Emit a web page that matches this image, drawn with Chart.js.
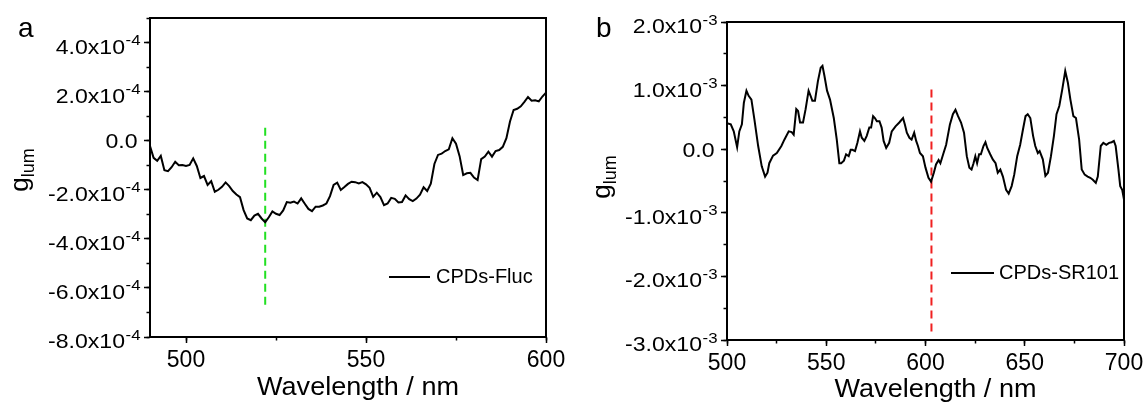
<!DOCTYPE html>
<html><head><meta charset="utf-8">
<script src="https://cdn.jsdelivr.net/npm/chart.js@4/dist/chart.umd.min.js"></script>
<style>
html,body{margin:0;padding:0;background:#fff;}
#wrap{position:relative;width:1147px;height:403px;overflow:hidden;background:#fff;}
.pane{position:absolute;top:0;height:403px;}
</style></head><body>
<div id="wrap">
<div class="pane" style="left:0;width:570px"><canvas id="ca"></canvas></div>
<div class="pane" style="left:570px;width:577px"><canvas id="cb"></canvas></div>
</div>
<script>
// ---------- Panel a : CPDs-Fluc ----------
const WAVELENGTH_A = [490,491,492,493,494,495,496,497,498,499,
500,501,502,503,504,505,506,507,508,509,
510,511,512,513,514,515,516,517,518,519,
520,521,522,523,524,525,526,527,528,529,
530,531,532,533,534,535,536,537,538,539,
540,541,542,543,544,545,546,547,548,549,
550,551,552,553,554,555,556,557,558,559,
560,561,562,563,564,565,566,567,568,569,
570,571,572,573,574,575,576,577,578,579,
580,581,582,583,584,585,586,587,588,589,
590,591,592,593,594,595,596,597,598,599,600];
const GLUM_A = [-0.22e-4,-0.7e-4,-0.82e-4,-0.62e-4,-1.2e-4,-1.24e-4,-1.08e-4,-0.86e-4,-1.0e-4,-0.99e-4,
-1.03e-4,-0.99e-4,-0.72e-4,-1.03e-4,-1.52e-4,-1.44e-4,-1.8e-4,-1.65e-4,-2.08e-4,-2.0e-4,
-1.88e-4,-1.7e-4,-1.85e-4,-2.05e-4,-2.19e-4,-2.3e-4,-2.83e-4,-3.17e-4,-3.24e-4,-3.05e-4,
-2.98e-4,-3.17e-4,-3.32e-4,-3.12e-4,-2.88e-4,-2.98e-4,-3.03e-4,-2.84e-4,-2.5e-4,-2.53e-4,
-2.48e-4,-2.56e-4,-2.35e-4,-2.57e-4,-2.78e-4,-2.87e-4,-2.69e-4,-2.69e-4,-2.64e-4,-2.56e-4,
-2.26e-4,-1.8e-4,-1.71e-4,-2.01e-4,-1.89e-4,-1.76e-4,-1.67e-4,-1.69e-4,-1.74e-4,-1.69e-4,
-1.78e-4,-1.92e-4,-2.29e-4,-2.12e-4,-2.3e-4,-2.63e-4,-2.56e-4,-2.33e-4,-2.37e-4,-2.52e-4,
-2.5e-4,-2.23e-4,-2.38e-4,-2.46e-4,-2.36e-4,-2.2e-4,-1.9e-4,-2.05e-4,-1.75e-4,-0.95e-4,
-0.58e-4,-0.53e-4,-0.42e-4,-0.35e-4,0.1e-4,-0.12e-4,-0.63e-4,-1.4e-4,-1.33e-4,-1.31e-4,
-1.5e-4,-1.6e-4,-0.75e-4,-0.65e-4,-0.45e-4,-0.65e-4,-0.42e-4,-0.38e-4,-0.25e-4,0.1e-4,
0.78e-4,1.25e-4,1.3e-4,1.4e-4,1.58e-4,1.78e-4,1.63e-4,1.65e-4,1.6e-4,1.8e-4,1.96e-4];
const MARKER_A_X = [522, 522];
const MARKER_A_Y = [0.53e-4, -6.82e-4];
const LABEL_A = 'CPDs-Fluc';
const X_TICKS_A = [500, 550, 600];
const Y_TICKS_A = [4e-4, 2e-4, 0, -2e-4, -4e-4, -6e-4, -8e-4];
const Y_TICK_MAIN_A = ['4.0x10','2.0x10','0.0','-2.0x10','-4.0x10','-6.0x10','-8.0x10'];
const Y_TICK_SUP_A = ['-4','-4','','-4','-4','-4','-4'];

// ---------- Panel b : CPDs-SR101 ----------
const WAVELENGTH_B = [500,501.9,503.4,505.1,506.2,507.5,508.5,509.8,510.9,512.3,513.8,515.7,517.5,519.2,520.4,521.3,523.2,525.1,527.4,528.9,
531.1,532.6,533.6,534.9,535.8,536.8,538.3,539.6,541.1,542.1,543.0,544.3,545.8,547.2,548.1,549.1,550.4,551.9,553.8,555.3,
556.6,557.5,558.9,560.0,561.3,562.3,563.2,564.5,565.7,567.0,567.9,569.2,570.4,571.7,572.6,573.6,574.5,575.5,576.8,577.9,
578.9,580.2,581.7,583.0,584.9,586.8,588.7,589.6,590.6,591.9,593.0,594.3,595.3,596.2,597.2,598.7,600.0,601.5,602.8,604.2,
605.3,606.6,607.5,608.9,610.4,612.3,613.8,615.1,616.4,617.9,619.4,620.8,622.1,623.2,624.2,625.1,626.0,627.0,627.9,629.2,
630.2,631.1,632.6,633.9,635.3,636.4,637.7,639.0,640.6,641.9,643.4,644.7,646.2,647.7,649.1,650.4,651.5,652.8,654.2,655.3,
656.6,657.5,659.1,660.4,661.7,663.2,664.7,666.0,667.4,668.9,670.4,671.7,673.0,674.5,675.8,677.4,678.7,680.2,681.7,683.0,
684.3,685.8,686.8,688.3,689.6,691.1,692.5,693.8,694.9,695.8,697.2,698.1,699.1,700.0];
const GLUM_B = [0.41e-3,0.39e-3,0.28e-3,0.03e-3,0.28e-3,0.39e-3,0.73e-3,0.92e-3,0.84e-3,0.78e-3,0.47e-3,0.05e-3,-0.27e-3,-0.43e-3,-0.37e-3,-0.22e-3,-0.10e-3,-0.06e-3,0.05e-3,0.15e-3,
0.28e-3,0.27e-3,0.23e-3,0.63e-3,0.60e-3,0.42e-3,0.42e-3,0.63e-3,0.92e-3,0.84e-3,0.76e-3,0.76e-3,1.07e-3,1.28e-3,1.31e-3,1.15e-3,0.92e-3,0.78e-3,0.49e-3,0.15e-3,
-0.22e-3,-0.22e-3,-0.18e-3,-0.08e-3,-0.11e-3,-0.01e-3,-0.01e-3,-0.03e-3,0.10e-3,0.28e-3,0.18e-3,0.13e-3,0.21e-3,0.34e-3,0.34e-3,0.52e-3,0.49e-3,0.44e-3,0.44e-3,0.34e-3,
0.13e-3,0.02e-3,0.10e-3,0.28e-3,0.36e-3,0.42e-3,0.49e-3,0.39e-3,0.26e-3,0.18e-3,0.15e-3,0.26e-3,0.13e-3,0.05e-3,-0.06e-3,-0.11e-3,-0.29e-3,-0.45e-3,-0.51e-3,-0.37e-3,
-0.24e-3,-0.17e-3,-0.22e-3,-0.08e-3,0.07e-3,0.39e-3,0.55e-3,0.62e-3,0.52e-3,0.42e-3,0.26e-3,-0.11e-3,-0.29e-3,-0.32e-3,-0.22e-3,-0.11e-3,-0.22e-3,-0.08e-3,-0.08e-3,0.05e-3,
0.11e-3,0.02e-3,-0.08e-3,-0.16e-3,-0.22e-3,-0.37e-3,-0.32e-3,-0.43e-3,-0.64e-3,-0.70e-3,-0.58e-3,-0.40e-3,-0.11e-3,0.07e-3,0.31e-3,0.52e-3,0.55e-3,0.49e-3,0.21e-3,0.05e-3,
-0.06e-3,-0.03e-3,-0.16e-3,-0.42e-3,-0.37e-3,-0.11e-3,0.21e-3,0.55e-3,0.68e-3,0.94e-3,1.23e-3,1.05e-3,0.78e-3,0.52e-3,0.49e-3,0.15e-3,-0.32e-3,-0.40e-3,-0.43e-3,-0.45e-3,
-0.48e-3,-0.53e-3,-0.43e-3,0.05e-3,0.10e-3,0.07e-3,0.10e-3,0.11e-3,0.13e-3,0.05e-3,-0.32e-3,-0.58e-3,-0.64e-3,-0.79e-3];
const MARKER_B_X = [603, 603];
const MARKER_B_Y = [0.94e-3, -2.93e-3];
const LABEL_B = 'CPDs-SR101';
const X_TICKS_B = [500, 550, 600, 650, 700];
const Y_TICKS_B = [2e-3, 1e-3, 0, -1e-3, -2e-3, -3e-3];
const Y_TICK_MAIN_B = ['2.0x10','1.0x10','0.0','-1.0x10','-2.0x10','-3.0x10'];
const Y_TICK_SUP_B = ['-3','-3','','-3','-3','-3'];

const FONT = "'Liberation Sans', Arial, sans-serif";

function sText(ctx, txt, x, y, sx, align) {
  const w = ctx.measureText(txt).width * sx;
  const left = align === 'right' ? x - w : (align === 'center' ? x - w / 2 : x);
  ctx.save(); ctx.translate(left, y); ctx.scale(sx, 1);
  ctx.textAlign = 'left'; ctx.fillText(txt, 0, 0); ctx.restore();
  return w;
}

function decorPlugin(s) {
  return {
    id: 'decor',
    afterDraw(chart) {
      const ctx = chart.ctx, a = chart.chartArea;
      const xs = chart.scales.x, ys = chart.scales.y;
      ctx.save();
      ctx.strokeStyle = '#000'; ctx.lineWidth = 2;
      ctx.strokeRect(a.left, a.top, a.right - a.left, a.bottom - a.top);
      ctx.fillStyle = '#000';
      ctx.textBaseline = 'alphabetic';
      // y tick labels with superscript exponent
      const MAIN = '21px ' + FONT, SUP = '15px ' + FONT;
      s.yTicks.forEach((v, i) => {
        const py = ys.getPixelForValue(v);
        const main = s.yMain[i], sup = s.ySup[i];
        if (sup) {
          const base = py + 11;
          ctx.font = SUP;
          const sw = sText(ctx, sup, a.left - 9.5, base - 8.5, 1.12, 'right');
          ctx.font = MAIN;
          sText(ctx, main, a.left - 9.5 - sw - 0.5, base, 1.1, 'right');
        } else {
          ctx.font = MAIN;
          sText(ctx, main, a.left - 12.5, py + 7.5, 1.1, 'right');
        }
      });
      // x tick labels
      ctx.font = '23px ' + FONT;
      s.xTicks.forEach(v => { sText(ctx, String(v), xs.getPixelForValue(v), a.bottom + 29.5, 1, 'center'); });
      // x title
      ctx.font = '26px ' + FONT;
      sText(ctx, 'Wavelength / nm', (a.left + a.right) / 2 + 10, s.xTitleBase, 1.04, 'center');
      // y title g_lum
      ctx.save();
      ctx.translate(s.yTitleX, s.yTitleY);
      ctx.rotate(-Math.PI / 2);
      ctx.textAlign = 'left';
      ctx.font = '26px ' + FONT; const gw = ctx.measureText('g').width;
      ctx.font = '18px ' + FONT; const lw = ctx.measureText('lum').width;
      const st = -(gw + lw) / 2;
      ctx.font = '26px ' + FONT; ctx.fillText('g', st, 0);
      ctx.font = '18px ' + FONT; ctx.fillText('lum', st + gw, 6);
      ctx.restore();
      // panel letter
      ctx.font = '28px ' + FONT; ctx.textAlign = 'left';
      ctx.fillText(s.letter, s.letterX, 37);
      // legend
      const ds = chart.data.datasets[0];
      ctx.strokeStyle = ds.borderColor; ctx.lineWidth = 2;
      ctx.beginPath(); ctx.moveTo(s.leg.x1, s.leg.y); ctx.lineTo(s.leg.x2, s.leg.y); ctx.stroke();
      ctx.font = '20px ' + FONT; ctx.textAlign = 'left'; ctx.textBaseline = 'middle';
      ctx.fillText(ds.label, s.leg.tx, s.leg.y);
      ctx.restore();
    }
  };
}

function tickGrid(len) {
  return { display: true, drawOnChartArea: false, drawTicks: true, tickLength: len, tickWidth: 1.5, tickColor: '#000' };
}

function build(id, o) {
  const pts = o.xs.map((x, i) => ({ x: x, y: o.ys[i] }));
  const mk = o.mx.map((x, i) => ({ x: x, y: o.my[i] }));
  return new Chart(document.getElementById(id), {
    type: 'line',
    data: {
      datasets: [
        { label: o.label, data: pts, borderColor: '#000', borderWidth: 2, pointRadius: 0, tension: 0, fill: false },
        { label: 'marker', data: mk, borderColor: o.mColor, borderWidth: 2, borderDash: [8, 5], pointRadius: 0, fill: false }
      ]
    },
    options: {
      responsive: true, maintainAspectRatio: false, animation: false, devicePixelRatio: 1,
      layout: { padding: { left: 0, right: o.padR, top: o.padT, bottom: 0 } },
      plugins: { legend: { display: false }, tooltip: { enabled: false } },
      events: [],
      scales: {
        x: {
          type: 'linear', position: 'bottom', weight: 1, min: o.xmin, max: o.xmax,
          ticks: { display: false, stepSize: o.xMajor, includeBounds: false },
          grid: tickGrid(6),
          border: { display: true, color: '#000', width: 2 },
          afterFit(sc) { sc.height = o.xH; }
        },
        xMinor: {
          type: 'linear', position: 'bottom', weight: 0, min: o.xmin, max: o.xmax,
          ticks: { display: false, stepSize: o.xMinorStep, includeBounds: false },
          grid: tickGrid(3.5),
          border: { display: false },
          afterFit(sc) { sc.height = 0; }
        },
        y: {
          type: 'linear', position: 'left', weight: 1, min: o.ymin, max: o.ymax,
          ticks: { display: false, stepSize: o.yMajor, includeBounds: false },
          grid: tickGrid(6),
          border: { display: true, color: '#000', width: 2 },
          afterFit(sc) { sc.width = o.yW; }
        },
        yMinor: {
          type: 'linear', position: 'left', weight: 0, min: o.ymin, max: o.ymax,
          ticks: { display: false, stepSize: o.yMinorStep, includeBounds: false },
          grid: tickGrid(3.5),
          border: { display: false },
          afterFit(sc) { sc.width = 0; }
        }
      }
    },
    plugins: [decorPlugin(o.decor)]
  });
}

build('ca', {
  xs: WAVELENGTH_A, ys: GLUM_A, mx: MARKER_A_X, my: MARKER_A_Y, mColor: '#22e022', label: LABEL_A,
  xmin: 490, xmax: 600, xMajor: 50, xMinorStep: 25,
  ymin: -8e-4, ymax: 5e-4, yMajor: 2e-4, yMinorStep: 1e-4,
  padR: 24, padT: 18, xH: 66, yW: 150,
  decor: { yTicks: Y_TICKS_A, yMain: Y_TICK_MAIN_A, ySup: Y_TICK_SUP_A, xTicks: X_TICKS_A,
           xTitleBase: 395, yTitleX: 28, yTitleY: 170, letter: 'a', letterX: 18,
           leg: { x1: 389, x2: 430, y: 277, tx: 436 } }
});
build('cb', {
  xs: WAVELENGTH_B, ys: GLUM_B, mx: MARKER_B_X, my: MARKER_B_Y, mColor: '#f02020', label: LABEL_B,
  xmin: 500, xmax: 700, xMajor: 50, xMinorStep: 25,
  ymin: -3e-3, ymax: 2e-3, yMajor: 1e-3, yMinorStep: 0.5e-3,
  padR: 23, padT: 22, xH: 63, yW: 157,
  decor: { yTicks: Y_TICKS_B, yMain: Y_TICK_MAIN_B, ySup: Y_TICK_SUP_B, xTicks: X_TICKS_B,
           xTitleBase: 397, yTitleX: 40, yTitleY: 177, letter: 'b', letterX: 26,
           leg: { x1: 381, x2: 424, y: 273, tx: 429 } }
});
</script>
</body></html>
